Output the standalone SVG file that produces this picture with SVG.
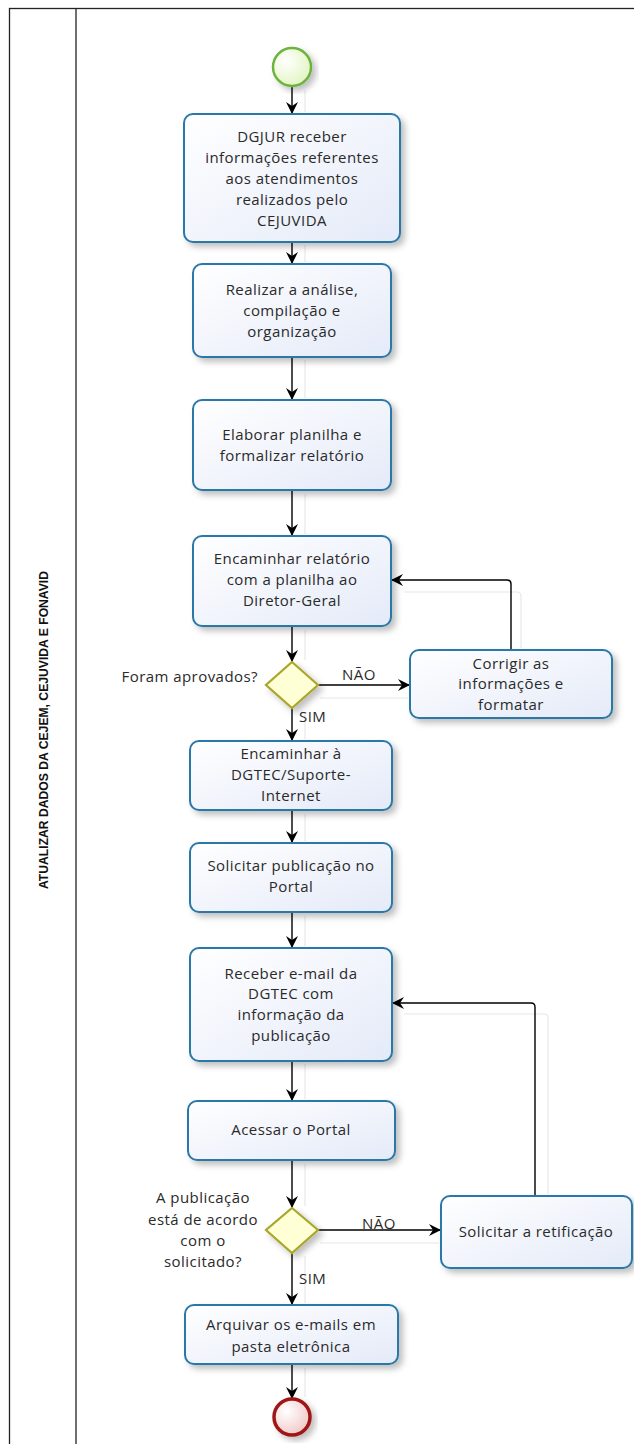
<svg xmlns="http://www.w3.org/2000/svg" width="634" height="1444" viewBox="0 0 634 1444">
<defs>
<linearGradient id="boxg" x1="0" y1="0" x2="1" y2="1">
<stop offset="0" stop-color="#ffffff"/><stop offset="1" stop-color="#e4eaf8"/>
</linearGradient>
<radialGradient id="startg" cx="0.35" cy="0.35" r="0.8">
<stop offset="0" stop-color="#ffffff"/><stop offset="1" stop-color="#dff3b8"/>
</radialGradient>
<radialGradient id="endg" cx="0.35" cy="0.35" r="0.8">
<stop offset="0" stop-color="#ffffff"/><stop offset="1" stop-color="#f0c0c0"/>
</radialGradient>
<filter id="sh" x="-10%" y="-10%" width="130%" height="130%">
<feDropShadow dx="4" dy="4" stdDeviation="3" flood-color="#000" flood-opacity="0.25"/>
</filter>
<marker id="arr" viewBox="0 0 12 12" refX="11" refY="6" markerWidth="12" markerHeight="12" markerUnits="userSpaceOnUse" orient="auto">
<path d="M0,0 L12,6 L0,12 L4,6 z" fill="#000"/>
</marker>
<style>
.box{fill:url(#boxg);stroke:#2b78a8;stroke-width:2;filter:url(#sh)}
.gw{fill:#ffffd6;stroke:#a9a62c;stroke-width:2.2;filter:url(#sh)}
.t{font-family:"Open Sans","Noto Sans","DejaVu Sans",sans-serif;font-size:15px;letter-spacing:0.45px;fill:#2a2a2a;text-anchor:middle}
.lbl{font-family:"Open Sans","Noto Sans","DejaVu Sans",sans-serif;font-size:15px;letter-spacing:0.45px;fill:#2a2a2a}
.c{fill:none;stroke:#000;stroke-width:1.4;marker-end:url(#arr)}
.ghost{fill:none;stroke:#e8e8e8;stroke-width:1.2}
</style>
</defs>
<rect x="0" y="0" width="634" height="1444" fill="#fff"/>
<g id="pool">
<rect x="9.5" y="8.5" width="700" height="1500" fill="none" stroke="#222" stroke-width="1.3"/>
<line x1="76" y1="8" x2="76" y2="1444" stroke="#222" stroke-width="1.3"/>
<text transform="translate(48,730) rotate(-90)" text-anchor="middle" font-family="'Liberation Sans',Arial,sans-serif" font-weight="bold" font-size="12" fill="#111" textLength="318" lengthAdjust="spacingAndGlyphs">ATUALIZAR DADOS DA CEJEM, CEJUVIDA E FONAVID</text>
</g>
<g id="ghosts">
<path class="ghost" d="M305,90 V112 M305,245 V262 M305,360 V398 M305,494 V534 M305,630 V660 M305,712 V739 M305,814 V841 M305,916 V946 M305,1064 V1099 M305,1164 V1206 M305,1256 V1303 M305,1368 V1397"/>
<path class="ghost" d="M521,648 V596 Q521,592 517,592 H404"/>
<path class="ghost" d="M548,1194 V1018 Q548,1014 544,1014 H404"/>
<path class="ghost" d="M320,698 H408 M320,1243 H439"/>
</g>
<g id="connectors">
<line class="c" x1="292" y1="86" x2="292" y2="113"/>
<line class="c" x1="292" y1="242" x2="292" y2="263"/>
<line class="c" x1="292" y1="357" x2="292" y2="399"/>
<line class="c" x1="292" y1="490" x2="292" y2="535"/>
<line class="c" x1="292" y1="626" x2="292" y2="661"/>
<line class="c" x1="318" y1="685" x2="409" y2="685"/>
<path class="c" d="M511,650 V584 Q511,580 507,580 H392"/>
<line class="c" x1="292" y1="708" x2="292" y2="740"/>
<line class="c" x1="292" y1="810" x2="292" y2="842"/>
<line class="c" x1="292" y1="912" x2="292" y2="947"/>
<line class="c" x1="292" y1="1061" x2="292" y2="1100"/>
<line class="c" x1="292" y1="1160" x2="292" y2="1207"/>
<line class="c" x1="318" y1="1230" x2="440" y2="1230"/>
<path class="c" d="M535,1196 V1007 Q535,1003 531,1003 H393"/>
<line class="c" x1="292" y1="1253" x2="292" y2="1304"/>
<line class="c" x1="292" y1="1364" x2="292" y2="1398"/>
<text class="lbl" x="342" y="680">NÃO</text>
<text class="lbl" x="299" y="722">SIM</text>
<text class="lbl" x="362" y="1229">NÃO</text>
<text class="lbl" x="299" y="1284">SIM</text>
</g>
<g id="start">
<circle cx="292" cy="67" r="19" fill="url(#startg)" stroke="#6db33f" stroke-width="2.5" filter="url(#sh)"/>
</g>
<g id="t1">
<rect class="box" x="184" y="114" width="216" height="128" rx="9"/>
<text class="t" x="292" y="142">DGJUR receber</text>
<text class="t" x="292" y="163">informações referentes</text>
<text class="t" x="292" y="184">aos atendimentos</text>
<text class="t" x="292" y="205">realizados pelo</text>
<text class="t" x="292" y="226">CEJUVIDA</text>
</g>
<g id="t2">
<rect class="box" x="193" y="264" width="198" height="93" rx="9"/>
<text class="t" x="292" y="295">Realizar a análise,</text>
<text class="t" x="292" y="316">compilação e</text>
<text class="t" x="292" y="337">organização</text>
</g>
<g id="t3">
<rect class="box" x="193" y="400" width="198" height="90" rx="9"/>
<text class="t" x="292" y="440">Elaborar planilha e</text>
<text class="t" x="292" y="461">formalizar relatório</text>
</g>
<g id="t4">
<rect class="box" x="193" y="536" width="198" height="90" rx="9"/>
<text class="t" x="292" y="564">Encaminhar relatório</text>
<text class="t" x="292" y="585">com a planilha ao</text>
<text class="t" x="292" y="606">Diretor-Geral</text>
</g>
<g id="g1">
<polygon class="gw" points="292,662 318,685 292,708 266,685"/>
<text class="lbl" x="258" y="682" text-anchor="end">Foram aprovados?</text>
</g>
<g id="t5">
<rect class="box" x="410" y="650" width="202" height="68" rx="9"/>
<text class="t" x="511" y="669">Corrigir as</text>
<text class="t" x="511" y="689">informações e</text>
<text class="t" x="511" y="710">formatar</text>
</g>
<g id="t6">
<rect class="box" x="190" y="741" width="202" height="69" rx="9"/>
<text class="t" x="291" y="759">Encaminhar à</text>
<text class="t" x="291" y="780">DGTEC/Suporte-</text>
<text class="t" x="291" y="801">Internet</text>
</g>
<g id="t7">
<rect class="box" x="190" y="843" width="202" height="69" rx="9"/>
<text class="t" x="291" y="871">Solicitar publicação no</text>
<text class="t" x="291" y="892">Portal</text>
</g>
<g id="t8">
<rect class="box" x="190" y="948" width="202" height="113" rx="9"/>
<text class="t" x="291" y="979">Receber e-mail da</text>
<text class="t" x="291" y="999">DGTEC com</text>
<text class="t" x="291" y="1020">informação da</text>
<text class="t" x="291" y="1041">publicação</text>
</g>
<g id="t9">
<rect class="box" x="188" y="1101" width="207" height="59" rx="9"/>
<text class="t" x="291" y="1135">Acessar o Portal</text>
</g>
<g id="g2">
<polygon class="gw" points="292,1208 318,1230 292,1253 266,1230"/>
<text class="t" x="203" y="1203">A publicação</text>
<text class="t" x="203" y="1225">está de acordo</text>
<text class="t" x="203" y="1246">com o</text>
<text class="t" x="203" y="1267">solicitado?</text>
</g>
<g id="t10">
<rect class="box" x="441" y="1196" width="191" height="72" rx="9"/>
<text class="t" x="536" y="1237">Solicitar a retificação</text>
</g>
<g id="t11">
<rect class="box" x="185" y="1305" width="213" height="59" rx="9"/>
<text class="t" x="291" y="1330">Arquivar os e-mails em</text>
<text class="t" x="291" y="1352">pasta eletrônica</text>
</g>
<g id="end">
<circle cx="292" cy="1417" r="18" fill="url(#endg)" stroke="#a01818" stroke-width="3.5" filter="url(#sh)"/>
</g>
</svg>
